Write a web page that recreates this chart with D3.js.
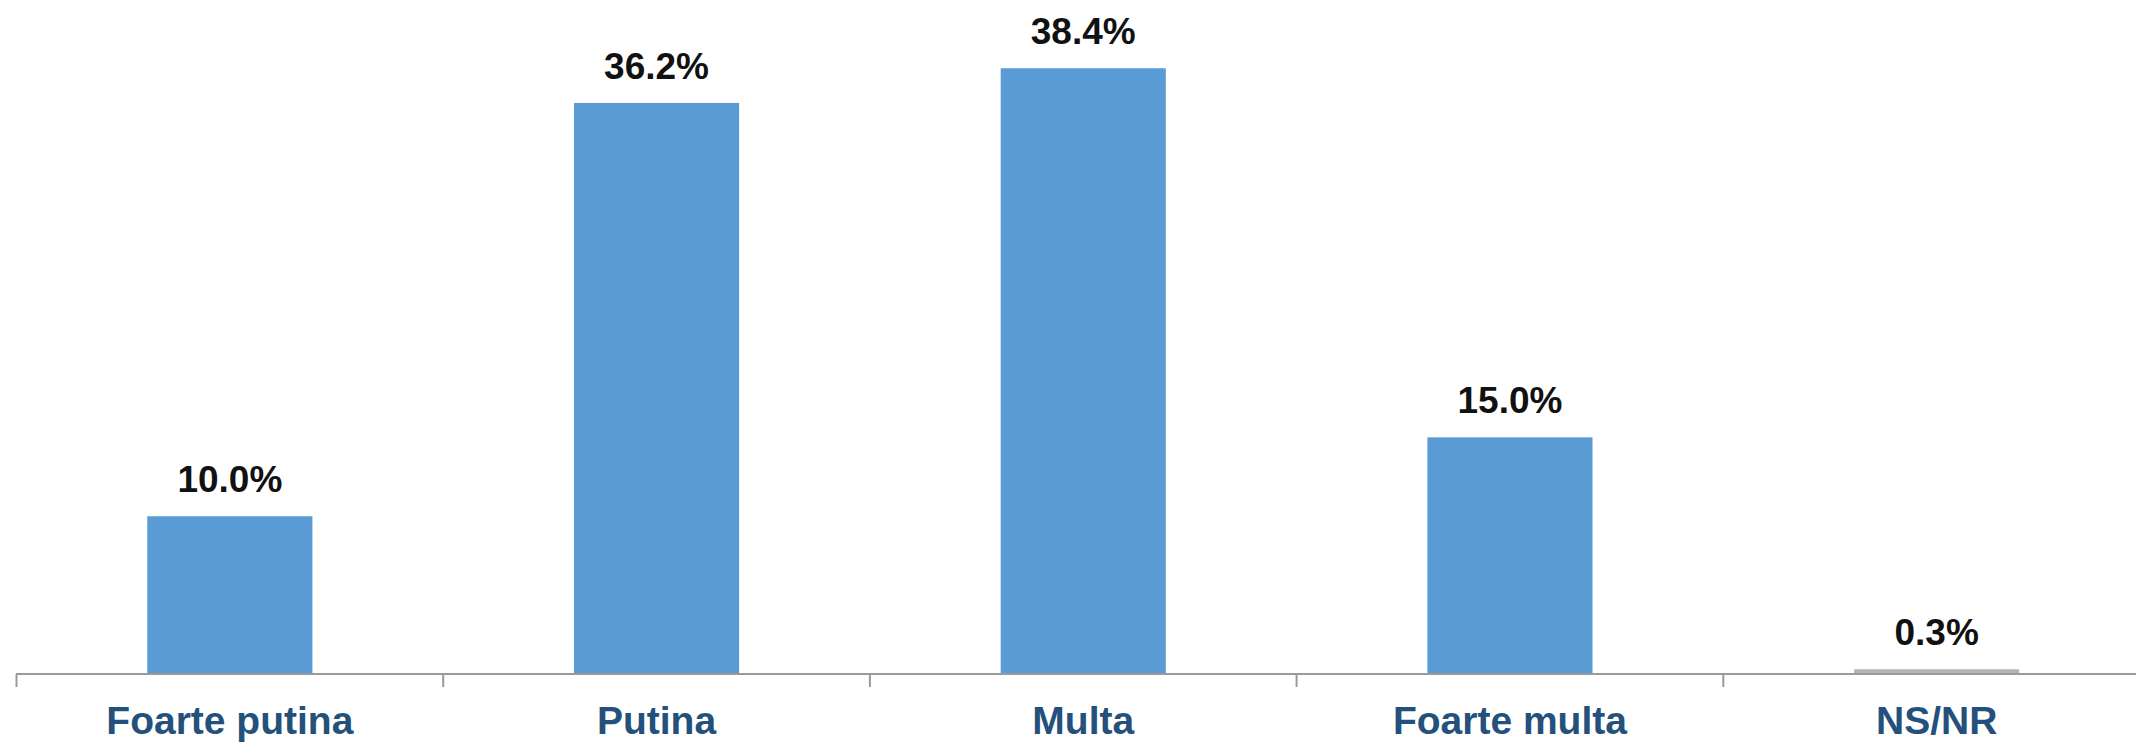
<!DOCTYPE html>
<html>
<head>
<meta charset="utf-8">
<script src="https://cdn.jsdelivr.net/npm/d3@7"></script>
<style>
  html, body { margin: 0; padding: 0; background: #ffffff; }
  svg { display: block; }
</style>
</head>
<body>
<svg id="chart" width="2136" height="742"></svg>
<script>
const categories = ["Foarte putina", "Putina", "Multa", "Foarte multa", "NS/NR"];
const values = [10.0, 36.2, 38.4, 15.0, 0.3];
const valueLabels = ["10.0%", "36.2%", "38.4%", "15.0%", "0.3%"];
const barColors = ["#5b9bd5", "#5b9bd5", "#5b9bd5", "#5b9bd5", "#b4b4b4"];

const svg = d3.select("#chart");
const W = 2136, H = 742;

const p = 0.613;
const x = d3.scaleBand().domain(categories).range([16.5, 2150]).paddingInner(p).paddingOuter(p / 2);
const y = d3.scaleLinear().domain([0, 40]).range([674, 43]);

const data = categories.map((c, i) => ({ c, v: values[i], label: valueLabels[i], color: barColors[i] }));

// bars
svg.append("g").selectAll("rect").data(data).join("rect")
  .attr("x", d => x(d.c))
  .attr("y", d => y(d.v))
  .attr("width", x.bandwidth())
  .attr("height", d => y(0) - y(d.v))
  .attr("fill", d => d.color);

// axis line + ticks at category boundaries
const axisG = svg.append("g");
axisG.append("line")
  .attr("x1", 16).attr("x2", W)
  .attr("y1", y(0)).attr("y2", y(0))
  .attr("stroke", "#9a9a9a").attr("stroke-width", 2);
const step = x.step();
const boundaries = categories.map((c, i) => x(c) - x.paddingOuter() * step + (i === 0 ? 0 : 0));
axisG.selectAll("line.tick").data(categories).join("line")
  .attr("class", "tick")
  .attr("x1", d => x(d) + x.bandwidth() / 2 - step / 2)
  .attr("x2", d => x(d) + x.bandwidth() / 2 - step / 2)
  .attr("y1", y(0)).attr("y2", y(0) + 13)
  .attr("stroke", "#9a9a9a").attr("stroke-width", 2);

// value labels
svg.append("g").selectAll("text").data(data).join("text")
  .attr("x", d => x(d.c) + x.bandwidth() / 2)
  .attr("y", d => y(d.v) - 24)
  .attr("text-anchor", "middle")
  .attr("font-family", "Liberation Sans, Arial, sans-serif")
  .attr("font-weight", "bold")
  .attr("font-size", 37)
  .attr("fill", "#111111")
  .text(d => d.label);

// category labels
svg.append("g").selectAll("text").data(categories).join("text")
  .attr("x", d => x(d) + x.bandwidth() / 2)
  .attr("y", 734)
  .attr("text-anchor", "middle")
  .attr("font-family", "Liberation Sans, Arial, sans-serif")
  .attr("font-weight", "bold")
  .attr("font-size", 39)
  .attr("fill", "#24507c")
  .text(d => d);
</script>
</body>
</html>
